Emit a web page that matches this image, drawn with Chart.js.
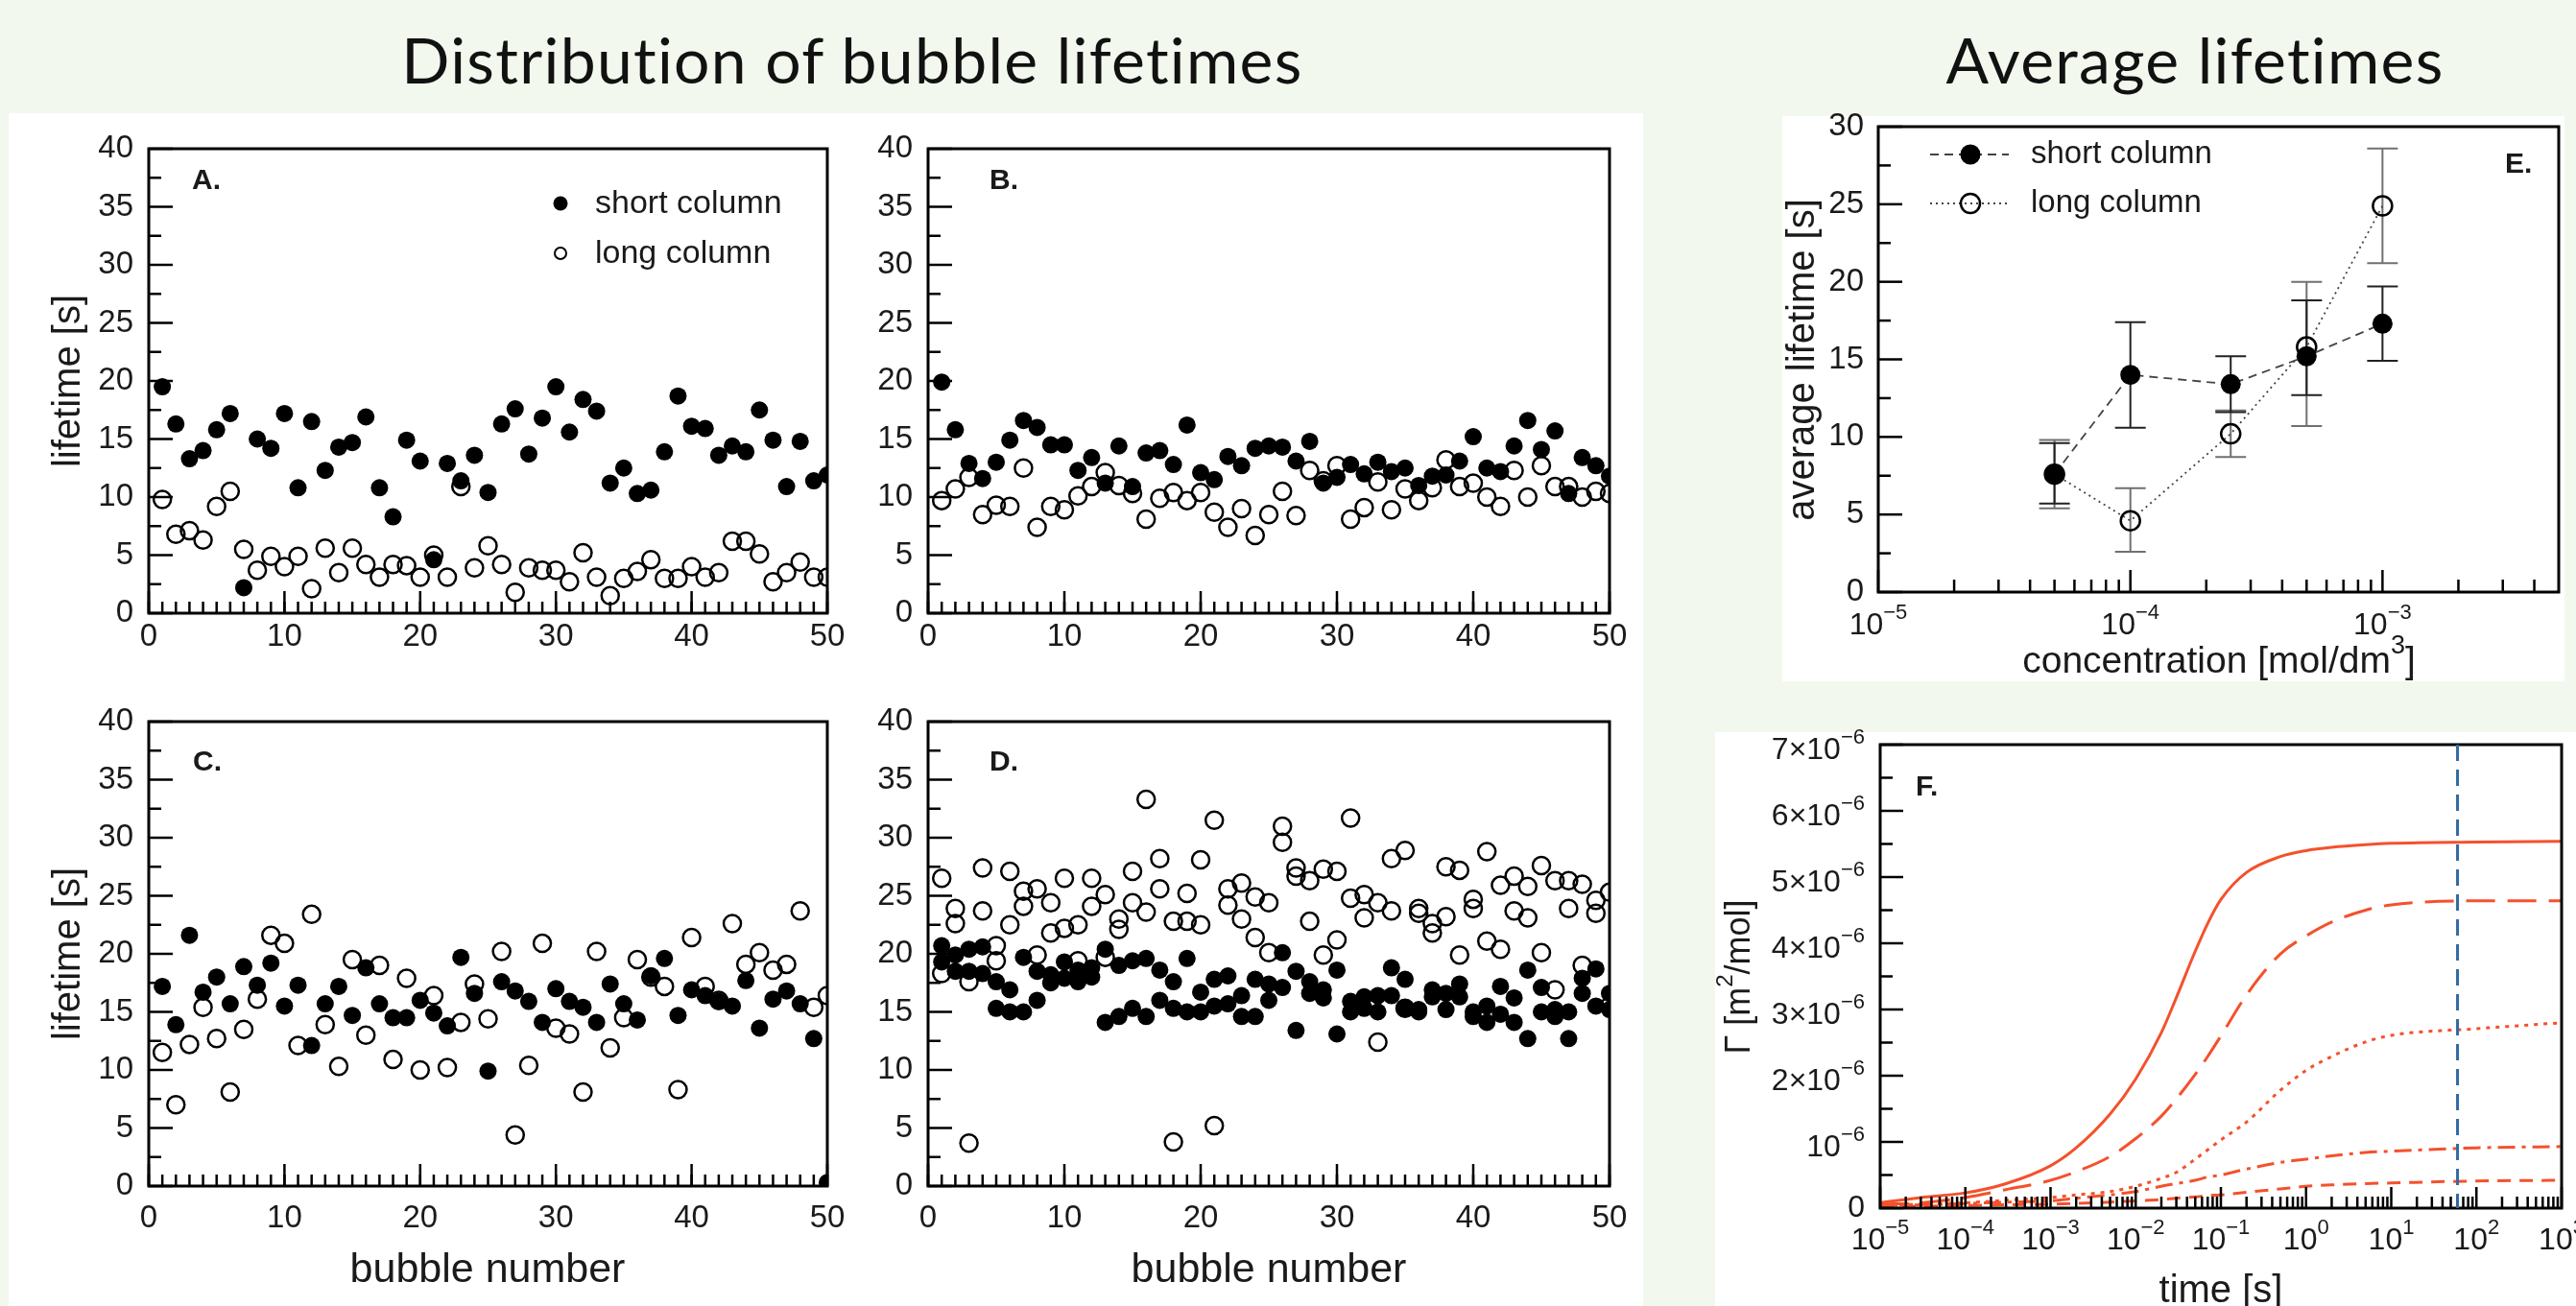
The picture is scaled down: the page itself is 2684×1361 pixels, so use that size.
<!DOCTYPE html>
<html>
<head>
<meta charset="utf-8">
<script src="https://cdn.jsdelivr.net/npm/chart.js@4.4.1/dist/chart.umd.min.js"></script>
<style>
  html, body { margin: 0; padding: 0; background: #f3f8ee; }
  #fig { position: relative; width: 2684px; height: 1361px; overflow: hidden; background: #f3f8ee; }
  .title { position: absolute; font-family: Lato, sans-serif; font-size: 66px; letter-spacing: 1.3px; line-height: 1;
           font-variant-ligatures: none; color: #111; text-align: center; white-space: nowrap; }
  .sheet { position: absolute; background: #fff; }
  canvas { position: absolute; }
</style>
</head>
<body>
<div id="fig">
  <div class="title" style="left:388px;top:29px;width:1000px">Distribution of bubble lifetimes</div>
  <div class="title" style="left:1787px;top:29px;width:1000px">Average lifetimes</div>
  <div class="sheet" style="left:9px;top:118px;width:1703px;height:1243px"></div>
  <div class="sheet" style="left:1857px;top:121px;width:815px;height:589px"></div>
  <div class="sheet" style="left:1787px;top:763px;width:897px;height:598px"></div>
</div>
<script>
// ---- data ----
const bubbles = [1,2,3,4,5,6,7,8,9,10,11,12,13,14,15,16,17,18,19,20,21,22,23,24,25,
                 26,27,28,29,30,31,32,33,34,35,36,37,38,39,40,41,42,43,44,45,46,47,48,49,50];

// A.
const aShort = [19.5,16.3,13.3,14.0,15.8,17.2,2.2,15.0,14.2,17.2, 10.8,16.5,12.3,14.3,14.7,16.9,10.8,8.3,14.9,13.1,
                4.6,12.9,11.4,13.6,10.4,16.3,17.6,13.7,16.8,19.5, 15.6,18.4,17.4,11.2,12.5,10.3,10.6,13.9,18.7,16.1,
                15.9,13.6,14.4,13.9,17.5,14.9,10.9,14.8,11.4,11.9];
const aLong  = [9.8,6.8,7.1,6.3,9.2,10.5,5.5,3.7,4.9,4.0, 4.9,2.1,5.6,3.5,5.6,4.2,3.1,4.2,4.1,3.1,
                5.0,3.1,10.9,3.9,5.8,4.2,1.8,3.9,3.7,3.7, 2.7,5.2,3.1,1.5,3.0,3.6,4.6,3.0,3.0,4.0,
                3.1,3.5,6.2,6.2,5.1,2.7,3.5,4.4,3.1,3.1];
// B.
const bShort = [19.9,15.8,12.9,11.6,13.0,14.9,16.6,16.0,14.5,14.5, 12.3,13.4,11.2,14.4,10.9,13.8,14.0,12.8,16.2,12.1,
                11.5,13.5,12.7,14.2,14.4,14.3,13.1,14.8,11.2,11.7, 12.8,12.0,13.0,12.2,12.5,11.0,11.8,11.9,13.1,15.2,
                12.5,12.2,14.4,16.6,14.1,15.7,10.3,13.4,12.7,11.8];
const bLong  = [9.7,10.7,11.7,8.5,9.3,9.2,12.5,7.4,9.2,8.9, 10.1,10.9,12.1,11.0,10.3,8.1,9.9,10.4,9.7,10.4,
                8.7,7.4,9.0,6.7,8.5,10.5,8.4,12.3,11.4,12.7, 8.1,9.1,11.3,8.9,10.7,9.7,10.8,13.2,10.9,11.2,
                10.0,9.2,12.3,10.0,12.7,10.9,10.9,10.0,10.5,10.3];
// C.
const cShort = [17.2,13.9,21.6,16.7,18.0,15.7,18.9,17.3,19.2,15.5, 17.3,12.1,15.7,17.2,14.7,18.8,15.7,14.5,14.5,16.0,
                14.9,13.8,19.7,16.6,9.9,17.6,16.8,15.9,14.1,17.0, 15.9,15.4,14.1,17.4,15.7,14.3,18.1,19.6,14.7,16.9,
                16.4,15.9,15.5,17.7,13.6,16.1,16.8,15.7,12.7,0.3];
const cLong  = [11.5,7.0,12.2,15.4,12.7,8.1,13.5,16.1,21.6,20.9, 12.1,23.4,13.9,10.3,19.5,13.0,19.0,10.9,17.9,10.0,
                16.4,10.2,14.1,17.4,14.4,20.2,4.4,10.4,20.9,13.6, 13.1,8.1,20.2,11.9,14.5,19.5,18.0,17.2,8.3,21.4,
                17.2,16.0,22.6,19.1,20.1,18.6,19.1,23.7,15.4,16.4];
// D. (two bubbles per number)
const dShort1 = [20.7,19.9,20.4,20.6,17.6,16.9,19.7,18.5,18.2,19.3, 18.6,18.8,20.4,19.0,19.4,19.6,18.6,17.6,19.6,16.7,
                 17.8,18.1,16.4,17.8,17.4,20.1,18.5,17.6,16.9,18.6, 15.9,16.3,16.4,18.8,17.8,15.2,16.9,16.6,17.4,15.0,
                 15.5,17.2,16.2,18.6,17.1,15.2,15.0,17.9,18.7,16.6];
const dShort2 = [19.3,18.5,18.5,18.3,15.3,15.0,15.0,16.0,17.5,17.9, 17.6,18.0,14.1,14.6,15.3,14.6,16.0,15.3,15.0,15.0,
                 15.5,15.7,14.6,14.6,16.0,17.1,13.4,16.6,16.2,13.1, 15.0,15.3,15.0,16.4,15.3,15.0,16.3,15.2,16.3,14.6,
                 14.1,14.8,14.1,12.7,15.0,14.6,12.7,16.6,15.5,15.2];
const dLong1  = [26.5,23.9,17.6,27.4,20.7,27.1,25.4,25.6,24.4,26.5, 22.5,26.5,25.1,23.0,27.1,33.3,28.2,22.8,25.2,28.1,
                 31.5,25.6,26.1,24.9,24.4,31.0,27.4,26.3,27.3,27.1, 31.7,25.1,24.4,28.2,28.9,23.9,22.6,27.5,27.2,24.7,
                 28.8,25.9,26.7,25.8,27.6,26.3,26.3,26.0,24.6,25.3];
const dLong2  = [18.3,22.6,3.7,23.7,19.4,22.5,24.1,19.9,21.8,22.2, 19.4,24.1,19.7,22.1,24.4,23.6,25.6,3.8,22.8,22.5,
                 5.2,24.2,23.0,21.4,20.1,29.6,26.7,22.8,19.9,21.2, 24.8,23.1,12.4,23.7,15.3,23.5,21.8,23.2,19.9,23.9,
                 21.1,20.4,23.7,23.1,20.1,16.9,23.9,19.0,23.5,15.5];

// E. average lifetimes
const eConc     = [5e-5, 1e-4, 2.5e-4, 5e-4, 1e-3];
const eShort    = [7.6, 14.0, 13.4, 15.2, 17.3];
const eShortLo  = [5.7, 10.6, 11.6, 12.7, 14.9];
const eShortHi  = [9.6, 17.4, 15.2, 18.8, 19.7];
const eLong     = [7.6, 4.6, 10.2, 15.8, 24.9];
const eLongLo   = [5.4, 2.6, 8.7, 10.7, 21.2];
const eLongHi   = [9.8, 6.7, 11.7, 20.0, 28.6];

// F. adsorption Γ(t), values in 10^-6 m2/mol
const fTime      = [1e-5,3e-5,1e-4,3e-4,1e-3,2e-3,5e-3,1e-2,2e-2,3e-2,5e-2,7e-2,0.1,0.2,0.5,1,2,5,10,100,1000];
const fSolid     = [0.08,0.16,0.23,0.37,0.64,0.91,1.42,1.95,2.65,3.18,3.88,4.30,4.66,5.07,5.31,5.40,5.45,5.49,5.51,5.53,5.54];
const fLongDash  = [0.06,0.08,0.16,0.28,0.42,0.55,0.78,1.05,1.39,1.65,2.02,2.29,2.60,3.22,3.84,4.11,4.32,4.50,4.58,4.64,4.64];
const fDotted    = [0.04,0.06,0.08,0.12,0.16,0.20,0.25,0.33,0.45,0.54,0.74,0.88,1.03,1.30,1.78,2.08,2.29,2.51,2.61,2.71,2.80];
const fDashDot   = [0.04,0.05,0.07,0.09,0.11,0.15,0.20,0.25,0.33,0.37,0.42,0.47,0.50,0.59,0.69,0.74,0.79,0.84,0.86,0.91,0.93];
const fShortDash = [0.03,0.03,0.04,0.05,0.06,0.07,0.09,0.11,0.13,0.15,0.17,0.19,0.20,0.24,0.29,0.33,0.35,0.37,0.38,0.41,0.42];
const fMarkTime  = 60;
const GAMMA_UNIT = 1e-6;

// ---- helpers ----
const INK = '#1a1a1a';
const AX = '"Liberation Sans", Arial, Helvetica, sans-serif';
const fig = document.getElementById('fig');

function makeCanvas(cv) {
  const c = document.createElement('canvas');
  c.width = cv.w; c.height = cv.h;
  Object.assign(c.style, { left: cv.l + 'px', top: cv.t + 'px', width: cv.w + 'px', height: cv.h + 'px' });
  fig.appendChild(c);
  return c;
}

function range(a, b, step) {
  const r = [];
  for (let v = a; v <= b + step * 1e-6; v += step) r.push(+v.toPrecision(10));
  return r;
}
function logMinor(lo, hi) {
  const r = [];
  for (let e = Math.floor(Math.log10(lo)); e <= Math.ceil(Math.log10(hi)); e++)
    for (let m = 2; m <= 9; m++) { const v = m * Math.pow(10, e); if (v > lo && v < hi) r.push(v); }
  return r;
}
function decades(lo, hi) {
  const r = [];
  for (let e = Math.round(Math.log10(lo)); e <= Math.round(Math.log10(hi)); e++) r.push(Math.pow(10, e));
  return r;
}

// text with optional superscript parts, y = centre of the base text
function rich(ctx, parts, x, y, size, align = 'center', rot = 0, bold = false) {
  ctx.save();
  ctx.translate(x, y);
  if (rot) ctx.rotate(rot);
  ctx.fillStyle = INK;
  ctx.textBaseline = 'middle';
  ctx.textAlign = 'left';
  const supSize = Math.round(size * 0.68);
  const fontOf = p => (bold ? 'bold ' : '') + (p.sup ? supSize : size) + 'px ' + AX;
  const widths = parts.map(p => { ctx.font = fontOf(p); return ctx.measureText(p.t).width; });
  const total = widths.reduce((s, w) => s + w, 0);
  let cx = align === 'center' ? -total / 2 : align === 'right' ? -total : 0;
  parts.forEach((p, i) => {
    ctx.font = fontOf(p);
    ctx.fillText(p.t, cx, p.sup ? -size * 0.42 : 0);
    cx += widths[i];
  });
  ctx.restore();
}
const T = t => [{ t }];
const P = (base, sup) => [{ t: base }, { t: sup, sup: true }];

function circle(ctx, x, y, r, filled, lw = 2.5) {
  ctx.beginPath();
  ctx.arc(x, y, r, 0, Math.PI * 2);
  if (filled) { ctx.fillStyle = '#000'; ctx.fill(); }
  else { ctx.lineWidth = lw; ctx.strokeStyle = '#000'; ctx.stroke(); }
}

// frame, inward ticks, panel letter and page-placed texts
function deco(spec) {
  return {
    id: 'deco',
    beforeDatasetsDraw(chart) { if (spec.under) spec.under(chart); },
    afterDraw(chart) {
      const { ctx, chartArea: a, scales: { x, y } } = chart;
      ctx.save();
      ctx.strokeStyle = '#000';
      ctx.lineWidth = 2.5;
      const mark = (px, py, dx, dy) => { ctx.beginPath(); ctx.moveTo(px, py); ctx.lineTo(px + dx, py + dy); ctx.stroke(); };
      spec.xMajor.forEach(v => mark(x.getPixelForValue(v), a.bottom, 0, -spec.xLen[0]));
      spec.xMinor.forEach(v => mark(x.getPixelForValue(v), a.bottom, 0, -spec.xLen[1]));
      spec.yMajor.forEach(v => mark(a.left, y.getPixelForValue(v), spec.yLen[0], 0));
      spec.yMinor.forEach(v => mark(a.left, y.getPixelForValue(v), spec.yLen[1], 0));
      ctx.lineWidth = 3;
      ctx.strokeRect(a.left, a.top, a.right - a.left, a.bottom - a.top);
      rich(ctx, T(spec.letter), a.left + spec.letterAt[0], a.top + spec.letterAt[1], 30, 'left', 0, true);
      ctx.restore();

      ctx.save();
      ctx.translate(-spec.cv.l, -spec.cv.t);   // page coordinates from here
      (spec.texts || []).forEach(t => rich(ctx, t.parts, t.x, t.y, t.size, t.align || 'center', t.rot || 0));
      if (spec.over) spec.over(chart, ctx);
      ctx.restore();
    }
  };
}

function layoutFor(cv, ca, YW, XH) {
  return { padding: { left: ca.l - cv.l - YW, top: ca.t - cv.t, right: cv.l + cv.w - ca.r, bottom: cv.t + cv.h - ca.b - XH } };
}

const baseOptions = {
  responsive: false, animation: false, devicePixelRatio: 1, events: [],
  plugins: { legend: { display: false }, tooltip: { enabled: false } }
};
const noGrid = { display: false, drawTicks: false };

// ---- A-D: bubble lifetimes ----
function dots(values, filled) {
  return {
    data: values.map((v, i) => ({ x: bubbles[i], y: v })),
    pointRadius: 9,
    pointBackgroundColor: filled ? '#000' : 'rgba(0,0,0,0)',
    pointBorderColor: '#000',
    pointBorderWidth: filled ? 0 : 2.5,
    showLine: false
  };
}

function bubblePanel(p) {
  const { cv, ca } = p;
  const YW = ca.l - cv.l, XH = 60;
  const tickFont = { family: AX, size: 33 };
  new Chart(makeCanvas(cv), {
    type: 'scatter',
    data: { datasets: [...p.filled.map(s => dots(s, true)), ...p.open.map(s => dots(s, false))] },
    options: {
      ...baseOptions,
      layout: layoutFor(cv, ca, YW, XH),
      scales: {
        x: { type: 'linear', min: 0, max: 50, afterFit: s => { s.height = XH; },
             grid: noGrid, border: { display: false },
             ticks: { stepSize: 10, padding: p.xPad, maxRotation: 0, color: INK, font: tickFont } },
        y: { type: 'linear', min: 0, max: 40, afterFit: s => { s.width = YW; },
             grid: noGrid, border: { display: false },
             ticks: { stepSize: 5, padding: 16, color: INK, font: tickFont } }
      }
    },
    plugins: [deco({
      cv, letter: p.letter, letterAt: p.letterAt,
      xMajor: range(0, 50, 10), xMinor: range(0, 50, 1), xLen: [23, 12],
      yMajor: range(0, 40, 5), yMinor: range(2.5, 40, 5), yLen: [25, 13],
      texts: p.texts,
      over: p.over
    })]
  });
}

bubblePanel({
  letter: 'A.', letterAt: [45, 34], xPad: 5,
  cv: { l: 9, t: 100, w: 900, h: 600 }, ca: { l: 155, t: 155, r: 862, b: 639 },
  filled: [aShort], open: [aLong],
  texts: [
    { parts: T('lifetime [s]'), x: 72, y: 397, size: 40, rot: -Math.PI / 2 },
    { parts: T('short column'), x: 620, y: 213, size: 34, align: 'left' },
    { parts: T('long column'), x: 620, y: 265, size: 34, align: 'left' }
  ],
  over: (chart, ctx) => { circle(ctx, 584, 212, 7.5, true); circle(ctx, 584, 264, 6, false, 2); }
});
bubblePanel({
  letter: 'B.', letterAt: [64, 34], xPad: 5,
  cv: { l: 880, t: 100, w: 830, h: 600 }, ca: { l: 967, t: 155, r: 1677, b: 639 },
  filled: [bShort], open: [bLong], texts: []
});
bubblePanel({
  letter: 'C.', letterAt: [46, 43], xPad: 14,
  cv: { l: 9, t: 700, w: 900, h: 661 }, ca: { l: 155, t: 752, r: 862, b: 1236 },
  filled: [cShort], open: [cLong],
  texts: [
    { parts: T('lifetime [s]'), x: 72, y: 994, size: 40, rot: -Math.PI / 2 },
    { parts: T('bubble number'), x: 508, y: 1324, size: 43 }
  ]
});
bubblePanel({
  letter: 'D.', letterAt: [64, 43], xPad: 14,
  cv: { l: 880, t: 700, w: 830, h: 661 }, ca: { l: 967, t: 752, r: 1677, b: 1236 },
  filled: [dShort1, dShort2], open: [dLong1, dLong2],
  texts: [{ parts: T('bubble number'), x: 1322, y: 1324, size: 43 }]
});

// ---- E: average lifetimes ----
(function () {
  const cv = { l: 1857, t: 80, w: 827, h: 630 }, ca = { l: 1957, t: 132, r: 2666, b: 617 };
  const YW = ca.l - cv.l, XH = 60;
  const lineColor = '#444';
  const shortDash = [9, 6], longDash = [2, 4];
  const xLabels = decades(1e-5, 1e-3).map(v => ({ v, parts: P('10', '\u2212' + (-Math.log10(v)).toFixed(0)) }));
  new Chart(makeCanvas(cv), {
    type: 'scatter',
    data: { datasets: [
      { data: eConc.map((c, i) => ({ x: c, y: eShort[i] })), showLine: true, borderColor: lineColor, borderWidth: 1.8,
        borderDash: shortDash, pointRadius: 10.5, pointBackgroundColor: '#000', pointBorderWidth: 0 },
      { data: eConc.map((c, i) => ({ x: c, y: eLong[i] })), showLine: true, borderColor: lineColor, borderWidth: 1.8,
        borderDash: longDash, pointRadius: 10, pointBackgroundColor: 'rgba(0,0,0,0)', pointBorderColor: '#000', pointBorderWidth: 2.5 }
    ] },
    options: {
      ...baseOptions,
      layout: layoutFor(cv, ca, YW, XH),
      scales: {
        x: { type: 'logarithmic', min: 1e-5, max: 5e-3, afterFit: s => { s.height = XH; },
             grid: noGrid, border: { display: false }, ticks: { display: false } },
        y: { type: 'linear', min: 0, max: 30, afterFit: s => { s.width = YW; },
             grid: noGrid, border: { display: false },
             ticks: { stepSize: 5, padding: 15, color: INK, font: { family: AX, size: 33 } } }
      }
    },
    plugins: [deco({
      cv, letter: 'E.', letterAt: [653, 40],
      xMajor: decades(1e-5, 1e-3), xMinor: logMinor(1e-5, 5e-3), xLen: [23, 13],
      yMajor: range(0, 30, 5), yMinor: range(2.5, 30, 5), yLen: [25, 13],
      texts: [
        { parts: T('average lifetime [s]'), x: 1879, y: 375, size: 40, rot: -Math.PI / 2 },
        { parts: [{ t: 'concentration [mol/dm' }, { t: '3', sup: true }, { t: ']' }], x: 2312, y: 690, size: 39 },
        { parts: T('short column'), x: 2116, y: 161, size: 33, align: 'left' },
        { parts: T('long column'), x: 2116, y: 212, size: 33, align: 'left' }
      ],
      under(chart) {
        const { ctx, scales: { x, y } } = chart;
        const bars = (lo, hi, color) => {
          ctx.strokeStyle = color; ctx.lineWidth = 2;
          eConc.forEach((c, i) => {
            const px = x.getPixelForValue(c), p1 = y.getPixelForValue(lo[i]), p2 = y.getPixelForValue(hi[i]);
            ctx.beginPath();
            ctx.moveTo(px, p1); ctx.lineTo(px, p2);
            ctx.moveTo(px - 16, p1); ctx.lineTo(px + 16, p1);
            ctx.moveTo(px - 16, p2); ctx.lineTo(px + 16, p2);
            ctx.stroke();
          });
        };
        ctx.save();
        bars(eLongLo, eLongHi, '#707070');
        bars(eShortLo, eShortHi, '#222');
        ctx.restore();
      },
      over(chart, ctx) {
        const x = chart.scales.x;
        xLabels.forEach(l => rich(ctx, l.parts, x.getPixelForValue(l.v) + cv.l, 652, 32));
        ctx.strokeStyle = lineColor; ctx.lineWidth = 1.8;
        [[161, shortDash], [212, longDash]].forEach(([yy, dash]) => {
          ctx.setLineDash(dash); ctx.beginPath(); ctx.moveTo(2011, yy); ctx.lineTo(2093, yy); ctx.stroke();
        });
        ctx.setLineDash([]);
        circle(ctx, 2053, 161, 10.5, true);
        circle(ctx, 2053, 212, 10, false);
      }
    })]
  });
})();

// ---- F: surface coverage vs time ----
(function () {
  const cv = { l: 1787, t: 740, w: 897, h: 621 }, ca = { l: 1959, t: 776, r: 2669, b: 1259 };
  const YW = ca.l - cv.l, XH = 60;
  const red = '#f4512c';
  const curve = (vals, dash) => ({
    data: fTime.map((t, i) => ({ x: t, y: vals[i] * GAMMA_UNIT })), showLine: true, pointRadius: 0,
    borderColor: red, borderWidth: 3, borderDash: dash, cubicInterpolationMode: 'monotone'
  });
  const yLabels = range(0, 7, 1).map(k => ({
    v: k * GAMMA_UNIT,
    parts: k === 0 ? T('0') : k === 1 ? P('10', '\u22126') : P(k + '\u00d710', '\u22126')
  }));
  const xLabels = decades(1e-5, 1e3).map(v => {
    const e = Math.round(Math.log10(v));
    return { v, parts: P('10', (e < 0 ? '\u2212' : '') + Math.abs(e)) };
  });
  new Chart(makeCanvas(cv), {
    type: 'scatter',
    data: { datasets: [
      curve(fSolid, []),
      curve(fLongDash, [30, 13]),
      curve(fDotted, [4, 6]),
      curve(fDashDot, [18, 7, 4, 7]),
      curve(fShortDash, [14, 9])
    ] },
    options: {
      ...baseOptions,
      layout: layoutFor(cv, ca, YW, XH),
      scales: {
        x: { type: 'logarithmic', min: 1e-5, max: 1e3, afterFit: s => { s.height = XH; },
             grid: noGrid, border: { display: false }, ticks: { display: false } },
        y: { type: 'linear', min: 0, max: 7 * GAMMA_UNIT, afterFit: s => { s.width = YW; },
             grid: noGrid, border: { display: false }, ticks: { display: false } }
      }
    },
    plugins: [deco({
      cv, letter: 'F.', letterAt: [37, 45],
      xMajor: decades(1e-5, 1e3), xMinor: logMinor(1e-5, 1e3), xLen: [22, 12],
      yMajor: range(0, 7, 1).map(k => k * GAMMA_UNIT), yMinor: range(0.5, 7, 1).map(k => k * GAMMA_UNIT), yLen: [24, 13],
      texts: [
        { parts: [{ t: '\u0393 [m' }, { t: '2', sup: true }, { t: '/mol]' }], x: 1813, y: 1018, size: 36, rot: -Math.PI / 2 },
        { parts: T('time [s]'), x: 2314, y: 1346, size: 40 }
      ],
      over(chart, ctx) {
        const { chartArea: a, scales: { x, y } } = chart;
        ctx.save();
        ctx.strokeStyle = '#2f6aa3'; ctx.lineWidth = 3; ctx.setLineDash([17, 9]);
        const px = x.getPixelForValue(fMarkTime) + cv.l;
        ctx.beginPath(); ctx.moveTo(px, a.top + cv.t); ctx.lineTo(px, a.bottom + cv.t); ctx.stroke();
        ctx.restore();
        yLabels.forEach(l => rich(ctx, l.parts, ca.l - 16, y.getPixelForValue(l.v) + cv.t + (l.parts.length > 1 ? 6 : 0), 32, 'right'));
        xLabels.forEach(l => rich(ctx, l.parts, x.getPixelForValue(l.v) + cv.l, 1293, 32));
      }
    })]
  });
})();
</script>
</body>
</html>
